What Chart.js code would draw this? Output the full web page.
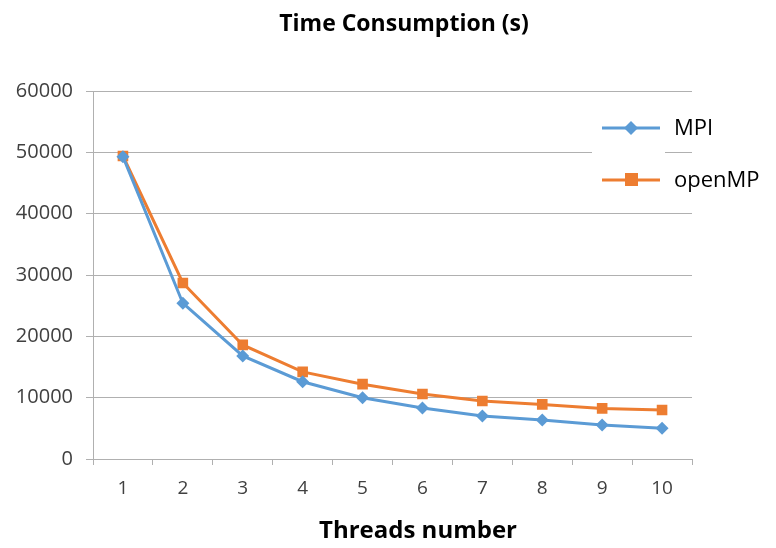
<!DOCTYPE html>
<html>
<head>
<meta charset="utf-8">
<script src="https://cdn.jsdelivr.net/npm/chart.js@4"></script>
<style>
  html, body { margin: 0; padding: 0; background: #fff; }
  #wrap { width: 776px; height: 548px; }
</style>
</head>
<body>
<div id="wrap"><canvas id="timeChart" width="776" height="548"></canvas></div>
<script>
var threads = ['1', '2', '3', '4', '5', '6', '7', '8', '9', '10'];
var mpiTimes = [49300, 25400, 16800, 12600, 10000, 8300, 7000, 6350, 5550, 5000];
var openmpTimes = [49400, 28700, 18600, 14200, 12200, 10600, 9450, 8900, 8250, 8000];
var yTicks = [0, 10000, 20000, 30000, 40000, 50000, 60000];

(function(window, document, undefined) {
	var blue = '#5B9BD5';
	var orange = '#ED7D31';
	var gridGray = '#b0b0b0';
	var textGray = '#404040';
	var font = "'Open Sans', 'DejaVu Sans', sans-serif";

	// titles and legend drawn by hand so they sit where the original has them
	var overlay = {
		id: 'overlay',
		afterDraw: function(chart) {
			var ctx = chart.ctx;
			ctx.save();
			ctx.fillStyle = '#000';
			ctx.textAlign = 'center';
			ctx.textBaseline = 'middle';
			ctx.font = 'bold 23px ' + font;
			ctx.fillText('Time Consumption (s)', 404, 24);
			ctx.font = 'bold 24px ' + font;
			ctx.fillText('Threads number', 418, 531);

			// legend sits on top of the grid, hiding part of one line
			ctx.fillStyle = '#fff';
			ctx.fillRect(592, 146, 73, 12);
			ctx.fillRect(705, 146, 71, 12);

			ctx.textAlign = 'left';
			chart.data.datasets.forEach(function(ds, i) {
				var y = 128 + i * 52;
				ctx.strokeStyle = ds.borderColor;
				ctx.lineWidth = 3;
				ctx.beginPath();
				ctx.moveTo(602, y);
				ctx.lineTo(660, y);
				ctx.stroke();
				ctx.fillStyle = ds.borderColor;
				if (ds.pointStyle === 'rect') {
					ctx.fillRect(625, y - 7, 13, 13);
				} else {
					ctx.beginPath();
					ctx.moveTo(631, y - 7);
					ctx.lineTo(638, y);
					ctx.lineTo(631, y + 7);
					ctx.lineTo(624, y);
					ctx.closePath();
					ctx.fill();
				}
				ctx.fillStyle = '#000';
				ctx.font = '22px ' + font;
				ctx.fillText(ds.label, 674, y + 1);
			});
			ctx.restore();
		}
	};

	var ctx = document.querySelector('#timeChart');
	var chart = new Chart(ctx, {
		type: 'line',
		data: {
			labels: threads,
			datasets: [{
				label: 'MPI',
				data: mpiTimes,
				borderColor: blue,
				backgroundColor: blue,
				borderWidth: 3,
				pointStyle: 'rectRot',
				pointRadius: 6.5,
				pointBorderWidth: 0,
				tension: 0
			}, {
				label: 'openMP',
				data: openmpTimes,
				borderColor: orange,
				backgroundColor: orange,
				borderWidth: 3,
				pointStyle: 'rect',
				pointRadius: 7.5,
				pointBorderWidth: 0,
				tension: 0
			}]
		},
		options: {
			responsive: false,
			animation: false,
			layout: { padding: { left: 0, right: 84, top: 91, bottom: 0 } },
			plugins: {
				legend: { display: false },
				tooltip: { enabled: false },
				title: { display: false }
			},
			scales: {
				x: {
					offset: true,
					afterFit: function(scale) { scale.height = 89; },
					grid: {
						offset: true,
						drawOnChartArea: false,
						color: gridGray,
						tickLength: 6
					},
					border: { color: gridGray },
					ticks: {
						color: textGray,
						padding: 12,
						font: { family: font, size: 19 }
					}
				},
				y: {
					min: 0,
					max: 60000,
					afterBuildTicks: function(scale) {
						scale.ticks = yTicks.map(function(v) { return { value: v }; });
					},
					afterFit: function(scale) { scale.width = 93; },
					grid: { color: gridGray, tickLength: 7 },
					border: { color: gridGray },
					ticks: {
						color: textGray,
						padding: 13,
						font: { family: font, size: 20 },
						callback: function(v) { return String(v); }
					}
				}
			}
		},
		plugins: [overlay]
	});
})(window, document);
</script>
</body>
</html>
